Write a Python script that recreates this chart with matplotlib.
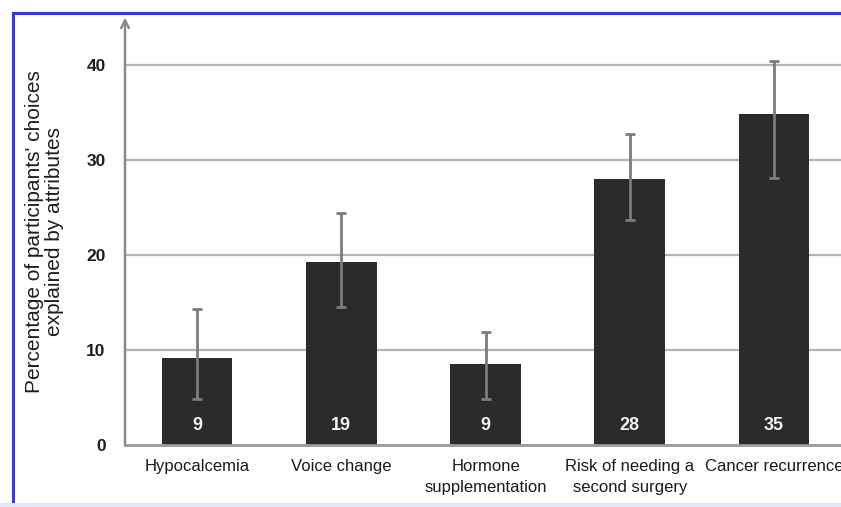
import matplotlib
matplotlib.use("Agg")
import matplotlib.pyplot as plt
from matplotlib.patches import Rectangle
import numpy as np

categories = ["Hypocalcemia", "Voice change", "Hormone\nsupplementation",
              "Risk of needing a\nsecond surgery", "Cancer recurrence"]
values = [9.2, 19.3, 8.5, 28.0, 34.8]
err_low = [4.8, 14.5, 4.8, 23.7, 28.1]
err_high = [14.3, 24.4, 11.9, 32.7, 40.4]
value_labels = ["9", "19", "9", "28", "35"]
yticks = [0, 10, 20, 30, 40]

W, H = 841, 507
fig = plt.figure(figsize=(W / 100, H / 100), dpi=100)
fig.patch.set_facecolor("white")

ax_left, ax_bottom, ax_right, ax_top = 125, 445, 846, 17.5
ax = fig.add_axes([ax_left / W, 1 - ax_bottom / H, (ax_right - ax_left) / W,
                   (ax_bottom - ax_top) / H])
ax.set_facecolor("white")

x = np.arange(len(categories))
vals = np.array(values)
yerr = np.array([vals - np.array(err_low), np.array(err_high) - vals])

ax.set_axisbelow(True)
for t in yticks[1:]:
    ax.axhline(t, color="#b4b4b4", lw=1.6, zorder=0)

ax.bar(x, vals, width=0.49, color="#2b2b2b", zorder=2)
ax.errorbar(x, vals, yerr=yerr, fmt="none", ecolor="#7c7c7c", elinewidth=2,
            capsize=3.5, capthick=2, zorder=3)

for xi, lab in zip(x, value_labels):
    ax.text(xi, 2.0, lab, color="#f2f2f2", ha="center", va="center",
            fontsize=13, fontweight="bold", family=["Liberation Sans", "DejaVu Sans"], zorder=4)

ax.set_xlim(-0.5, 4.5)
ax.set_ylim(0, 45)
ax.set_yticks(yticks)
ax.set_yticklabels([str(t) for t in yticks], fontsize=12.5, fontweight="bold",
                   family=["Liberation Sans", "DejaVu Sans"], color="#1e1e1e")
ax.set_xticks(x)
ax.set_xticklabels(categories, fontsize=12,
                   family=["Liberation Sans", "DejaVu Sans"],
                   color="#1a1a1a", linespacing=1.5)
ax.tick_params(axis="both", length=0)
ax.tick_params(axis="y", pad=14)
ax.tick_params(axis="x", pad=10)

for s in ["top", "right", "left"]:
    ax.spines[s].set_visible(False)
ax.spines["bottom"].set_color("#999999")
ax.spines["bottom"].set_linewidth(2)

ax.annotate("", xy=(0, 1.0), xytext=(0, 0), xycoords="axes fraction",
            arrowprops=dict(arrowstyle="->", color="#8a8a8a", lw=1.8,
                            mutation_scale=14, shrinkA=0, shrinkB=0))

ax.set_ylabel("Percentage of participants' choices\nexplained by attributes",
              fontsize=15, family=["Liberation Sans", "DejaVu Sans"], color="#1e1e1e",
              linespacing=1.1)
ax.yaxis.set_label_coords(-0.0846, 0.499)

# frame border of the screenshot
fig.patches.append(Rectangle((13 / W, 1 - 505 / H), 2, (505 - 13) / H,
                             transform=fig.transFigure, fill=False,
                             edgecolor="#3a3ad8", lw=2.2))
fig.patches.append(Rectangle((0, 0), 1, 4 / H, transform=fig.transFigure,
                             facecolor="#e6e6fb", edgecolor="none"))

fig.savefig("out.png", dpi=100)
